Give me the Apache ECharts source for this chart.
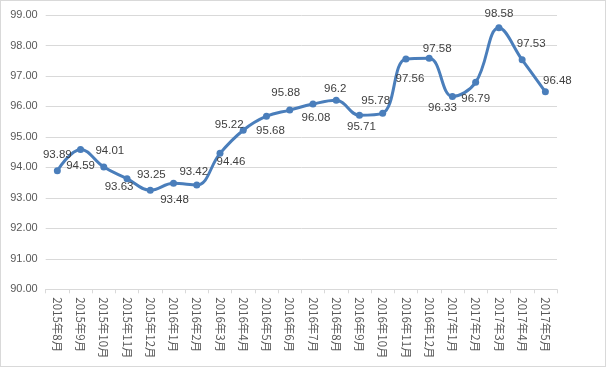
<!DOCTYPE html>
<html><head><meta charset="utf-8">
<script src="https://cdn.jsdelivr.net/npm/echarts@6/dist/echarts.min.js"></script>
<style>html,body{margin:0;padding:0;background:#fff}#c{width:604px;height:365px;border:1px solid #d9d9d9}</style>
</head><body><div id="c"></div>
<script>
const categories = ['2015年8月','2015年9月','2015年10月','2015年11月','2015年12月','2016年1月','2016年2月','2016年3月','2016年4月','2016年5月','2016年6月','2016年7月','2016年8月','2016年9月','2016年10月','2016年11月','2016年12月','2017年1月','2017年2月','2017年3月','2017年4月','2017年5月'];
const values = [93.89,94.59,94.01,93.63,93.25,93.48,93.42,94.46,95.22,95.68,95.88,96.08,96.2,95.71,95.78,97.56,97.58,96.33,96.79,98.58,97.53,96.48];
const labels = ['93.89','94.59','94.01','93.63','93.25','93.48','93.42','94.46','95.22','95.68','95.88','96.08','96.2','95.71','95.78','97.56','97.58','96.33','96.79','98.58','97.53','96.48'];
const yTicks = {min: 90, max: 99, interval: 1};
// label placement (style only)
const labelPlace = ['top','bottom','top','bottom','top','bottom','top','bottom','top','bottom','top','bottom','top','bottom','top','bottom','top','bottom','bottom','top','top','top'];
const labelOffset = [[0,-1],[0,2],[6,-2],[-8,-6],[1,-1],[1,2],[-3,1],[11,-6],[-14,9],[4,0],[-4,-3],[3,-1],[-1,3],[2,-3],[-7,2],[4,5],[8,5],[-10,-3],[0,2],[0,1],[9,-1],[12,4]];
const chart = echarts.init(document.getElementById('c'));
chart.setOption({
  animation: false,
  grid: {left: 44.7, right: 48, top: 14, bottom: 76.7},
  xAxis: {
    type: 'category', data: categories, boundaryGap: true,
    axisLine: {lineStyle: {color: '#d9d9d9'}},
    axisTick: {show: true, alignWithLabel: false, length: 4, lineStyle: {color: '#d9d9d9'}},
    axisLabel: {rotate: -90, interval: 0, color: '#595959', fontSize: 11.5, fontFamily: 'Noto Sans CJK SC', margin: 8}
  },
  yAxis: {
    type: 'value', min: yTicks.min, max: yTicks.max, interval: yTicks.interval,
    axisLine: {show: false}, axisTick: {show: false},
    splitLine: {lineStyle: {color: '#d9d9d9'}},
    axisLabel: {color: '#595959', fontSize: 11, fontFamily: 'Liberation Sans', margin: 8, formatter: v => v.toFixed(2)}
  },
  series: [{
    type: 'line', smooth: 0.4,
    data: values.map((v, i) => ({
      value: v,
      label: {show: true, position: labelPlace[i], offset: labelOffset[i], formatter: labels[i]}
    })),
    symbol: 'circle', symbolSize: 7,
    lineStyle: {color: '#4a7ebb', width: 3},
    itemStyle: {color: '#4a7ebb'},
    label: {color: '#404040', fontSize: 11.5, fontFamily: 'Liberation Sans', distance: 5}
  }]
});
</script></body></html>
